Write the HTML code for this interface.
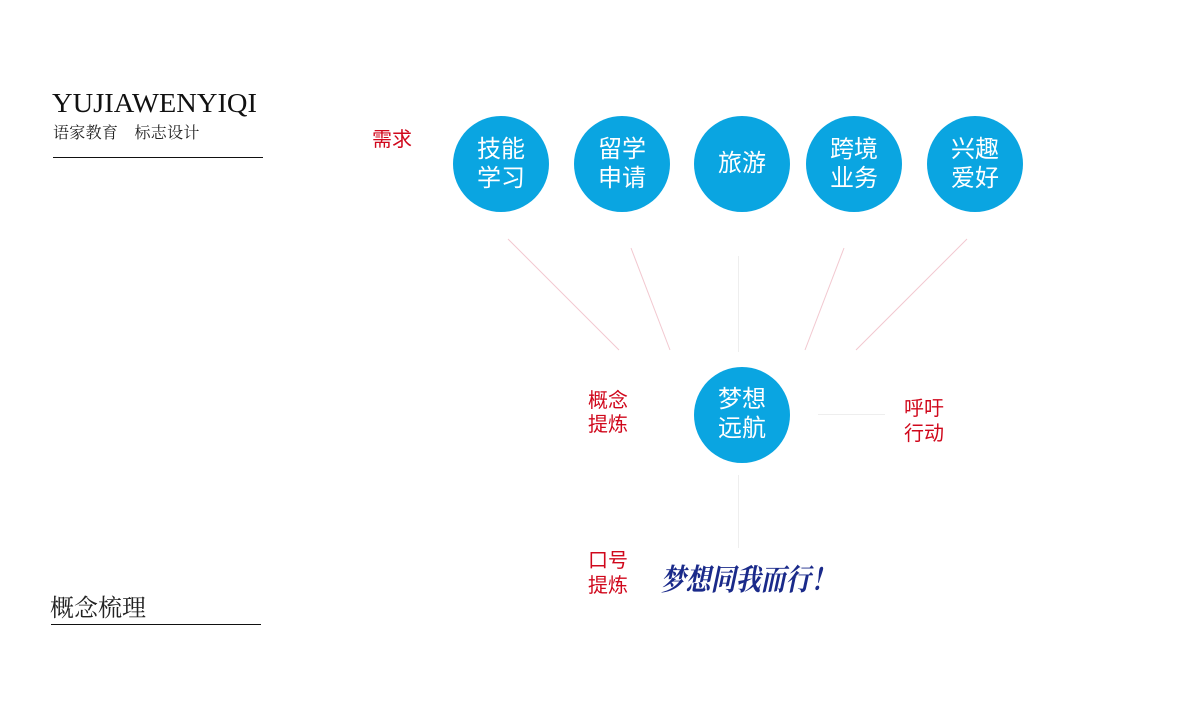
<!DOCTYPE html>
<html><head><meta charset="utf-8">
<style>
html,body{margin:0;padding:0;background:#fff;}
body{width:1200px;height:723px;overflow:hidden;position:relative;}
</style></head>
<body>
<svg width="1200" height="723" viewBox="0 0 1200 723" xmlns="http://www.w3.org/2000/svg">
<rect width="1200" height="723" fill="#fff"/>
<text x="52" y="112" font-family="Liberation Serif, serif" font-size="27" fill="#111" textLength="205" lengthAdjust="spacingAndGlyphs">YUJIAWENYIQI</text>
<text x="53" y="138" font-family="Liberation Serif, 'Noto Serif CJK SC', serif" font-size="16" fill="#222" letter-spacing="0.3">语家教育　标志设计</text>
<line x1="53" y1="157.5" x2="263" y2="157.5" stroke="#111" stroke-width="1"/>
<text x="50" y="616" font-family="Liberation Serif, 'Noto Serif CJK SC', serif" font-size="24" fill="#222">概念梳理</text>
<line x1="51" y1="624.5" x2="261" y2="624.5" stroke="#111" stroke-width="1"/>

<text x="372" y="146" font-family="Liberation Sans, 'Noto Sans CJK SC', sans-serif" font-size="20" fill="#d0081c">需求</text>

<g stroke="#f2c8d0" stroke-width="1">
<line x1="508" y1="239" x2="619" y2="350"/>
<line x1="631" y1="248" x2="670" y2="350"/>
<line x1="844" y1="248" x2="805" y2="350"/>
<line x1="967" y1="239" x2="856" y2="350"/>
</g>
<g stroke="#eeeeee" stroke-width="1">
<line x1="738.5" y1="256" x2="738.5" y2="352"/>
<line x1="738.5" y1="475" x2="738.5" y2="548"/>
<line x1="818" y1="414.5" x2="885" y2="414.5"/>
</g>

<g fill="#0aa5e1">
<circle cx="501" cy="164" r="48"/>
<circle cx="622" cy="164" r="48"/>
<circle cx="742" cy="164" r="48"/>
<circle cx="854" cy="164" r="48"/>
<circle cx="975" cy="164" r="48"/>
<circle cx="742" cy="415" r="48"/>
</g>
<g font-family="Liberation Sans, 'Noto Sans CJK SC', sans-serif" font-size="24" fill="#fff" text-anchor="middle">
<text x="501" y="157">技能</text><text x="501" y="186">学习</text>
<text x="622" y="157">留学</text><text x="622" y="186">申请</text>
<text x="742" y="171">旅游</text>
<text x="854" y="157">跨境</text><text x="854" y="186">业务</text>
<text x="975" y="157">兴趣</text><text x="975" y="186">爱好</text>
<text x="742" y="407">梦想</text><text x="742" y="436">远航</text>
</g>
<g font-family="Liberation Sans, 'Noto Sans CJK SC', sans-serif" font-size="20" fill="#d0081c">
<text x="588" y="407">概念</text><text x="588" y="431">提炼</text>
<text x="904" y="415">呼吁</text><text x="904" y="440">行动</text>
<text x="588" y="567">口号</text><text x="588" y="592">提炼</text>
</g>
<text x="662" y="590" font-family="'Noto Serif CJK SC', serif" font-weight="bold" font-size="30" fill="#1a2a8a" transform="skewX(-12) translate(124,0)" textLength="175" lengthAdjust="spacingAndGlyphs">梦想同我而行！</text>
</svg>
</body></html>
